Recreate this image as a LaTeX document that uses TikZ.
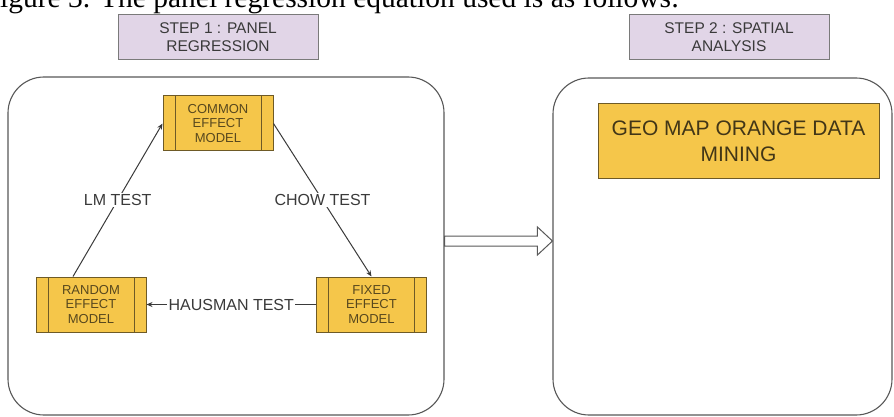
\documentclass[tikz,border=0pt]{standalone}
\usepackage{fontspec}
\setmainfont{Liberation Sans}
\newfontfamily\capfont{Liberation Serif}
\usetikzlibrary{arrows.meta,positioning,calc}
\definecolor{lavfill}{HTML}{E1D5E7}
\definecolor{lavline}{HTML}{7A7A7A}
\definecolor{goldfill}{HTML}{F5C64A}
\definecolor{goldline}{HTML}{6E5A26}
\definecolor{inkgray}{HTML}{3A3A3A}

\begin{document}
\begin{tikzpicture}[x=1pt,y=-1pt,>={Stealth[length=6pt,width=5pt]},
  frame/.style={draw=inkgray!85,line width=1.1pt,rounded corners=36pt},
  stepbox/.style={draw=lavline,fill=lavfill,line width=1pt,minimum width=200,minimum height=45,
    align=center,text=inkgray,font=\fontsize{15.5}{18}\selectfont},
  procbox/.style={draw=goldline,fill=goldfill,line width=1pt,minimum width=110,minimum height=55,
    align=center,text=goldline!80!black,font=\fontsize{13}{14.5}\selectfont,
    path picture={\draw[goldline,line width=1pt]
      ([xshift=12pt]path picture bounding box.north west) -- ([xshift=12pt]path picture bounding box.south west)
      ([xshift=-12pt]path picture bounding box.north east) -- ([xshift=-12pt]path picture bounding box.south east);}},
  testlabel/.style={fill=white,text=inkgray,font=\fontsize{16}{18}\selectfont,inner sep=1.5pt},
  link/.style={draw=inkgray,line width=1pt,->}]
  \useasboundingbox (0,0) rectangle (894,417);
  \node[anchor=base west,inner sep=0,font=\capfont\fontsize{29.5}{32}\selectfont] (caption) at (0,8)
    {igure 3. The panel regression equation used is as follows:};

  \node[stepbox] (stepone) at (218,37.5) {STEP 1 : PANEL\\REGRESSION};
  \node[stepbox] (steptwo) at (729,37.5) {STEP 2 : SPATIAL\\ANALYSIS};

  \node[frame,minimum width=436,minimum height=338] (panelframe) at (226,246) {};
  \node[frame,minimum width=339,minimum height=337] (spatialframe) at (722.5,246.5) {};

  \node[procbox] (common) at (218,123.5) {COMMON\\EFFECT\\MODEL};
  \node[procbox] (random) at (91,304.5) {RANDOM\\EFFECT\\MODEL};
  \node[procbox] (fixed) at (371.5,304.5) {FIXED\\EFFECT\\MODEL};

  \draw[link] ([xshift=-18pt]random.north) -- node[testlabel]{LM TEST} (common.west);
  \draw[link] (common.east) -- node[testlabel]{CHOW TEST} (fixed.north);
  \draw[link] (fixed.west) -- node[testlabel]{HAUSMAN TEST} (random.east);

  \node[draw=goldline,fill=goldfill,line width=1pt,minimum width=281,minimum height=74,align=center,
    text=goldline!60!black,font=\fontsize{21}{26}\selectfont] (geomap) at (738.5,141)
    {GEO MAP ORANGE DATA\\MINING};

  \coordinate (tail) at ($(panelframe.east)+(0,-5)$);
  \coordinate (tip) at (spatialframe.west |- tail);
  \draw[draw=inkgray!85,fill=white,line width=1pt]
    ($(tail)+(0,-5)$) -- ($(tip)+(-15,-5)$) -- ($(tip)+(-15,-14)$) -- (tip)
    -- ($(tip)+(-15,14)$) -- ($(tip)+(-15,5)$) -- ($(tail)+(0,5)$) -- cycle;
\end{tikzpicture}
\end{document}
